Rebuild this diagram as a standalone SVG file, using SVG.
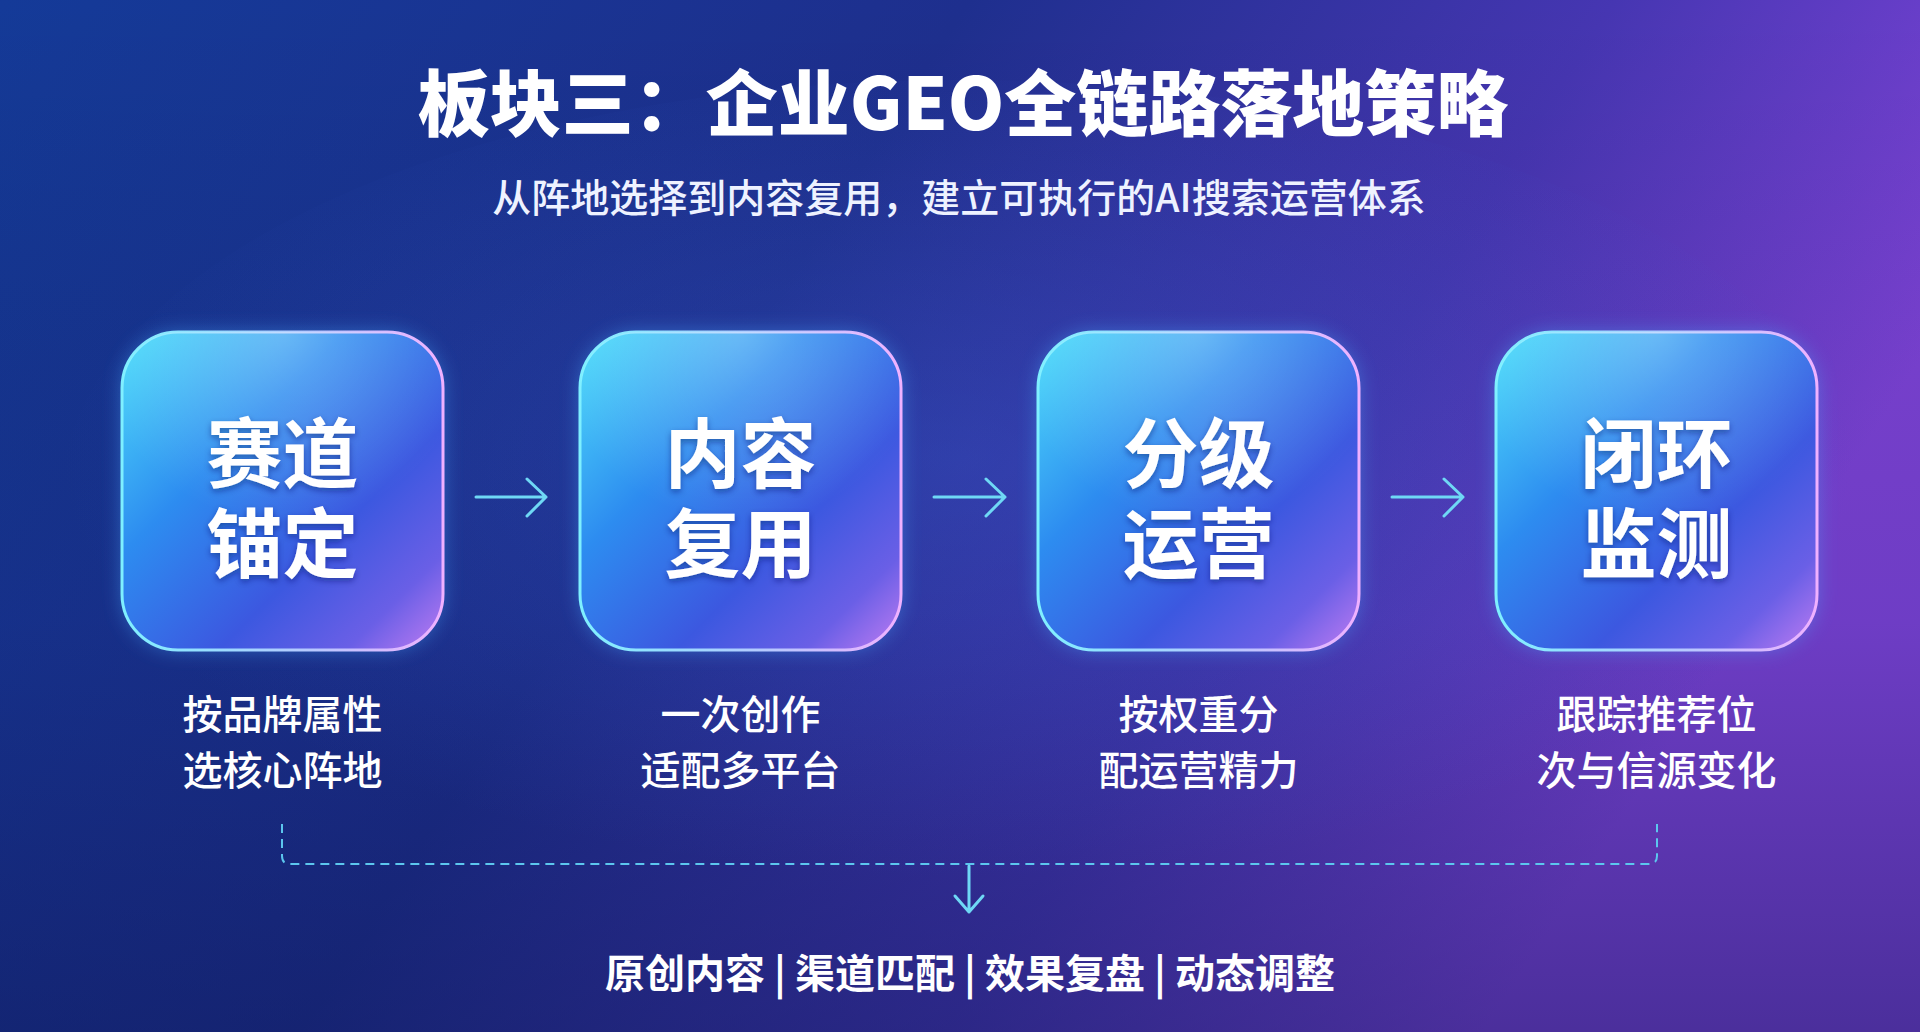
<svg xmlns="http://www.w3.org/2000/svg" width="1920" height="1032" viewBox="0 0 1920 1032">
<defs>
<linearGradient id="bg" x1="0" y1="0" x2="1" y2="0.35">
<stop offset="0" stop-color="#143a98"/>
<stop offset="0.45" stop-color="#1e2f8e"/>
<stop offset="0.75" stop-color="#4636b2"/>
<stop offset="1" stop-color="#8044da"/>
</linearGradient>
<linearGradient id="bgShade" x1="0" y1="0" x2="0" y2="1">
<stop offset="0" stop-color="#000" stop-opacity="0"/>
<stop offset="0.6" stop-color="#0a1550" stop-opacity="0.15"/>
<stop offset="1" stop-color="#0a1550" stop-opacity="0.45"/>
</linearGradient>
<radialGradient id="glowC" cx="0.5" cy="0.45" r="0.5">
<stop offset="0" stop-color="#3a5fd8" stop-opacity="0.35"/>
<stop offset="1" stop-color="#3a5fd8" stop-opacity="0"/>
</radialGradient>
<linearGradient id="boxFill" x1="0" y1="0" x2="1" y2="1">
<stop offset="0" stop-color="#4fe0fb"/>
<stop offset="0.35" stop-color="#2d8cf0"/>
<stop offset="0.65" stop-color="#3c58e0"/>
<stop offset="0.85" stop-color="#6a5fe6"/>
<stop offset="1" stop-color="#c07cf2"/>
</linearGradient>
<radialGradient id="boxTop" cx="0.5" cy="0" r="0.6">
<stop offset="0" stop-color="#ffffff" stop-opacity="0.25"/>
<stop offset="1" stop-color="#ffffff" stop-opacity="0"/>
</radialGradient>
<linearGradient id="boxStroke" x1="0" y1="0" x2="1" y2="0">
<stop offset="0" stop-color="#7ef0ff"/>
<stop offset="0.6" stop-color="#b8c8ff"/>
<stop offset="1" stop-color="#f0b0ff"/>
</linearGradient>
<filter id="glow" x="-20%" y="-20%" width="140%" height="140%">
<feGaussianBlur stdDeviation="10"/>
</filter>
<filter id="tshadow" x="-10%" y="-10%" width="120%" height="130%">
<feDropShadow dx="0" dy="3" stdDeviation="3" flood-color="#0a1860" flood-opacity="0.45"/>
</filter>
</defs>
<style>
.title{font-family:"Noto Sans CJK SC","Noto Sans",sans-serif;font-weight:900;font-size:72px;fill:#ffffff;text-anchor:middle}
.sub{font-family:"Noto Sans CJK SC","Noto Sans",sans-serif;font-weight:500;font-size:39px;fill:#eef2ff;text-anchor:middle}
.boxt{font-family:"Noto Sans CJK SC",sans-serif;font-weight:700;font-size:76px;fill:#ffffff;text-anchor:middle}
.cap{font-family:"Noto Sans CJK SC",sans-serif;font-weight:500;font-size:40px;fill:#ffffff;text-anchor:middle}
.bottom{font-family:"Noto Sans CJK SC",sans-serif;font-weight:700;font-size:40px;fill:#ffffff;text-anchor:middle;white-space:pre}
.box{fill:url(#boxFill);stroke:url(#boxStroke);stroke-width:3}
.boxglow{fill:#4aa8ff;opacity:0.45}
.conn{fill:none;stroke:#6fd8f5;stroke-width:3;stroke-linecap:round;stroke-linejoin:round}
.dash{fill:none;stroke:#5cc6ee;stroke-width:2;stroke-dasharray:9 6}
</style>
<rect width="1920" height="1032" fill="url(#bg)"/>
<rect width="1920" height="1032" fill="url(#bgShade)"/>
<ellipse cx="960" cy="500" rx="900" ry="420" fill="url(#glowC)"/>

<g id="title">
<text class="title" x="963" y="130">板块三：企业GEO全链路落地策略</text>
<text class="sub" x="959" y="212">从阵地选择到内容复用，建立可执行的AI搜索运营体系</text>
</g>

<g id="node1">
<rect class="boxglow" x="122" y="332" width="321" height="318" rx="56" filter="url(#glow)"/>
<rect class="box" x="122" y="332" width="321" height="318" rx="56"/>
<rect x="122" y="332" width="321" height="318" rx="56" fill="url(#boxTop)"/>
<text class="boxt" filter="url(#tshadow)"><tspan x="282.5" y="482">赛道</tspan><tspan x="282.5" y="572">锚定</tspan></text>
<text class="cap"><tspan x="282.5" y="729">按品牌属性</tspan><tspan x="282.5" y="785">选核心阵地</tspan></text>
</g>

<g id="node2">
<rect class="boxglow" x="580" y="332" width="321" height="318" rx="56" filter="url(#glow)"/>
<rect class="box" x="580" y="332" width="321" height="318" rx="56"/>
<rect x="580" y="332" width="321" height="318" rx="56" fill="url(#boxTop)"/>
<text class="boxt" filter="url(#tshadow)"><tspan x="740.5" y="482">内容</tspan><tspan x="740.5" y="572">复用</tspan></text>
<text class="cap"><tspan x="740.5" y="729">一次创作</tspan><tspan x="740.5" y="785">适配多平台</tspan></text>
</g>

<g id="node3">
<rect class="boxglow" x="1038" y="332" width="321" height="318" rx="56" filter="url(#glow)"/>
<rect class="box" x="1038" y="332" width="321" height="318" rx="56"/>
<rect x="1038" y="332" width="321" height="318" rx="56" fill="url(#boxTop)"/>
<text class="boxt" filter="url(#tshadow)"><tspan x="1198.5" y="482">分级</tspan><tspan x="1198.5" y="572">运营</tspan></text>
<text class="cap"><tspan x="1198.5" y="729">按权重分</tspan><tspan x="1198.5" y="785">配运营精力</tspan></text>
</g>

<g id="node4">
<rect class="boxglow" x="1496" y="332" width="321" height="318" rx="56" filter="url(#glow)"/>
<rect class="box" x="1496" y="332" width="321" height="318" rx="56"/>
<rect x="1496" y="332" width="321" height="318" rx="56" fill="url(#boxTop)"/>
<text class="boxt" filter="url(#tshadow)"><tspan x="1656.5" y="482">闭环</tspan><tspan x="1656.5" y="572">监测</tspan></text>
<text class="cap"><tspan x="1656.5" y="729">跟踪推荐位</tspan><tspan x="1656.5" y="785">次与信源变化</tspan></text>
</g>

<g id="connectors">
<path class="conn" d="M476,497 H546 M527,479 L546,497 L527,516"/>
<path class="conn" d="M934,497 H1005 M986,479 L1005,497 L986,516"/>
<path class="conn" d="M1392,497 H1463 M1444,479 L1463,497 L1444,516"/>
<path class="dash" d="M282,824 V856 Q282,864 290,864 H1649 Q1657,864 1657,856 V824"/>
<path class="conn" d="M969,866 V912 M955,896 L969,912 L983,896"/>
</g>

<g id="summary">
<text class="bottom" x="970" y="988">原创内容 | 渠道匹配 | 效果复盘 | 动态调整</text>
</g>
</svg>
